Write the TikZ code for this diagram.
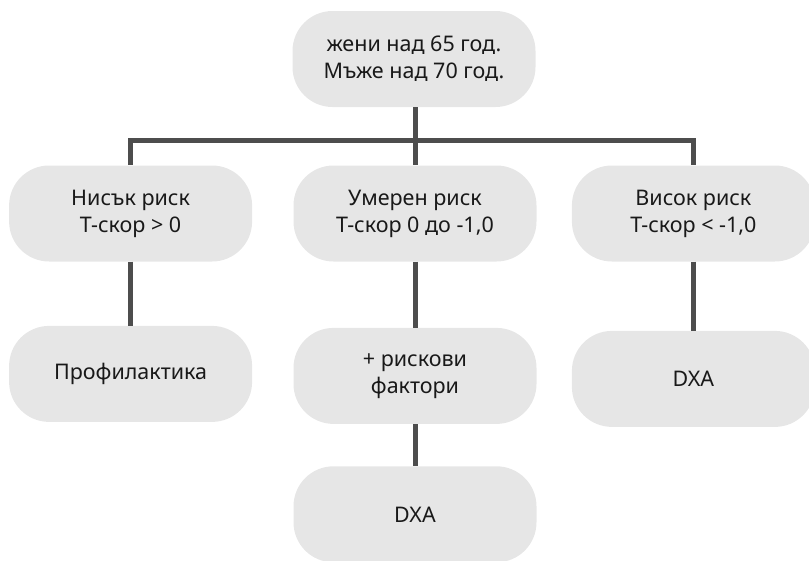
\documentclass[tikz,border=0pt]{standalone}
\usepackage{fontspec}
\setmainfont{Noto Sans}[Language=Bulgarian]
\usetikzlibrary{positioning}
\definecolor{boxgray}{HTML}{E6E6E6}
\definecolor{linegray}{HTML}{4D4D4D}

\begin{document}
\begin{tikzpicture}[x=1pt, y=1pt,
  box/.style={fill=boxgray, rounded corners=40pt, minimum width=243pt,
    minimum height=96pt, align=center, text=black!90,
    font=\fontsize{21.5}{27}\selectfont},
  link/.style={draw=linegray, line width=5pt}]
  \useasboundingbox (0,0) rectangle (809,-560);
  % age groups
  \node[box] (age) at (414,-59) {жени над 65 год.\\Мъже над 70 год.};
  % risk levels
  \node[box] (mid) at (415,-213.5) {Умерен риск\\Т-скор 0 до -1,0};
  \node[box] (low) [left=41pt of mid] {Нисък риск\\Т-скор > 0};
  \node[box] (high) [right=35pt of mid] {Висок риск\\Т-скор < -1,0};
  % actions
  \node[box] (prof) [below=64pt of low] {Профилактика};
  \node[box] (factors) [below=66pt of mid] {+ рискови\\фактори};
  \node[box] (dxahigh) [below=69pt of high] {DXA};
  \node[box] (dxamid) [below=42pt of factors] {DXA};
  \coordinate (fork) at (415,-140);
  \draw[link] (age.south -| fork) -- (fork);
  \draw[link] (fork) -| (low);
  \draw[link] (fork) -| (high);
  \draw[link] (fork) -- (mid);
  \draw[link] (low) -- (prof);
  \draw[link] (mid) -- (factors);
  \draw[link] (high) -- (dxahigh);
  \draw[link] (factors) -- (dxamid);
\end{tikzpicture}
\end{document}
